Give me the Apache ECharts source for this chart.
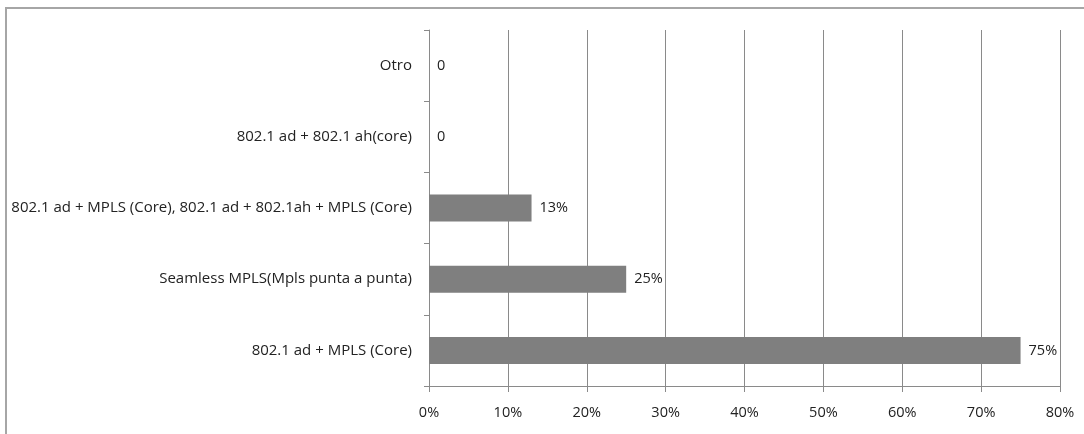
<!DOCTYPE html>
<html>
<head>
<meta charset="utf-8">
<script src="https://cdn.jsdelivr.net/npm/echarts@6/dist/echarts.min.js"></script>
<style>
  html, body { margin: 0; padding: 0; background: #fff; }
  #chart { width: 1084px; height: 434px; }
</style>
</head>
<body>
<div id="chart"></div>
<script>
// Categories listed bottom to top, as the category axis stacks them upward
const categories = [
  '802.1 ad + MPLS (Core)',
  'Seamless MPLS(Mpls punta a punta)',
  '802.1 ad + MPLS (Core), 802.1 ad + 802.1ah + MPLS (Core)',
  '802.1 ad + 802.1 ah(core)',
  'Otro'
];
const shares = [75, 25, 13, 0, 0];
const axisMax = 80;
const axisStep = 10;

const FONT = '"Open Sans", "Noto Sans", sans-serif';
const GRID_GRAY = '#8a8a8a';

const chart = echarts.init(document.getElementById('chart'), null, { renderer: 'canvas' });

chart.setOption({
  animation: false,
  backgroundColor: '#ffffff',
  graphic: [{
    type: 'rect',
    shape: { x: 6, y: 8, width: 1200, height: 600 },
    style: { fill: 'none', stroke: '#a6a6a6', lineWidth: 2 },
    silent: true
  }],
  grid: { left: 429, right: 24, top: 30, bottom: 48, containLabel: false },
  xAxis: {
    type: 'value',
    min: 0,
    max: axisMax,
    interval: axisStep,
    axisLine: { show: true, lineStyle: { color: GRID_GRAY, width: 1 } },
    axisTick: { show: true, length: 6, lineStyle: { color: GRID_GRAY } },
    axisLabel: {
      formatter: v => v + '%',
      color: '#222',
      fontFamily: FONT,
      fontSize: 14.5,
      margin: 19
    },
    splitLine: { show: true, lineStyle: { color: GRID_GRAY, width: 1 } }
  },
  yAxis: {
    type: 'category',
    data: categories,
    axisLine: { show: true, lineStyle: { color: GRID_GRAY, width: 1 } },
    axisTick: { show: true, length: 5, lineStyle: { color: GRID_GRAY } },
    axisLabel: {
      color: '#222',
      fontFamily: FONT,
      fontSize: 15,
      margin: 17
    },
    splitLine: { show: false }
  },
  series: [{
    type: 'bar',
    data: shares,
    barWidth: 27,
    itemStyle: { color: '#7f7f7f' },
    label: {
      show: true,
      position: 'right',
      distance: 8,
      color: '#222',
      fontFamily: FONT,
      fontSize: 14.5,
      formatter: p => (p.value === 0 ? '0' : p.value + '%')
    }
  }]
});
</script>
</body>
</html>
